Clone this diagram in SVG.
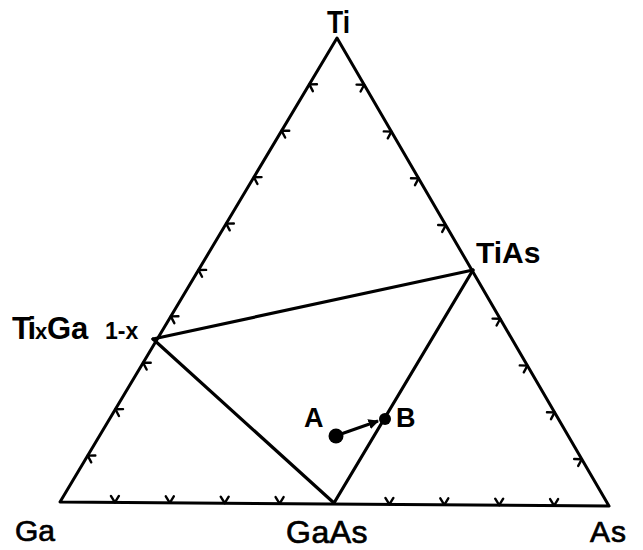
<svg xmlns="http://www.w3.org/2000/svg" xmlns:xlink="http://www.w3.org/1999/xlink" width="643" height="550" viewBox="0 0 643 550">
<style>
.edge{fill:none;stroke:#000;stroke-width:3;stroke-linejoin:round;stroke-linecap:round}
.tie{fill:none;stroke:#000;stroke-width:3.2;stroke-linecap:round}
.tick{fill:none;stroke:#000;stroke-width:2.4;stroke-linecap:round;stroke-linejoin:round}
.lb{font-family:"Liberation Sans",Arial,sans-serif;font-weight:bold;fill:#000}
.lr{font-family:"Liberation Sans",Arial,sans-serif;font-weight:normal;fill:#000;stroke:#000;stroke-width:0.7}
</style>
<defs>
<marker id="ah" viewBox="0 0 10 10" refX="9" refY="5" markerWidth="3.5" markerHeight="3.5" orient="auto" markerUnits="strokeWidth">
<path d="M0,0 L10,5 L0,10 z" fill="#000"/>
</marker>
<path id="tk" class="tick" d="M-4,-6.5 L0,0 L4,-6.5"/>
</defs>
<rect width="643" height="550" fill="#fff"/>
<g id="connectors">
<path class="edge" d="M60,502 L337,38 L609,506 Z"/>
<line class="tie" x1="153" y1="339" x2="473" y2="270"/>
<line class="tie" x1="153" y1="339" x2="334" y2="503"/>
<line class="tie" x1="334" y1="503" x2="473" y2="270"/>
<line x1="341" y1="434" x2="378" y2="421" stroke="#000" stroke-width="3" marker-end="url(#ah)"/>
</g>
<g id="ticks">
<use xlink:href="#tk" href="#tk" transform="translate(87.7,455.6) rotate(120.8)"/>
<use xlink:href="#tk" href="#tk" transform="translate(115.4,409.2) rotate(120.8)"/>
<use xlink:href="#tk" href="#tk" transform="translate(143.1,362.8) rotate(120.8)"/>
<use xlink:href="#tk" href="#tk" transform="translate(170.8,316.4) rotate(120.8)"/>
<use xlink:href="#tk" href="#tk" transform="translate(198.5,270) rotate(120.8)"/>
<use xlink:href="#tk" href="#tk" transform="translate(226.2,223.6) rotate(120.8)"/>
<use xlink:href="#tk" href="#tk" transform="translate(253.9,177.2) rotate(120.8)"/>
<use xlink:href="#tk" href="#tk" transform="translate(281.6,130.8) rotate(120.8)"/>
<use xlink:href="#tk" href="#tk" transform="translate(309.3,84.4) rotate(120.8)"/>
<use xlink:href="#tk" href="#tk" transform="translate(364.2,84.8) rotate(-120.2)"/>
<use xlink:href="#tk" href="#tk" transform="translate(391.4,131.6) rotate(-120.2)"/>
<use xlink:href="#tk" href="#tk" transform="translate(418.6,178.4) rotate(-120.2)"/>
<use xlink:href="#tk" href="#tk" transform="translate(445.8,225.2) rotate(-120.2)"/>
<use xlink:href="#tk" href="#tk" transform="translate(500.2,318.8) rotate(-120.2)"/>
<use xlink:href="#tk" href="#tk" transform="translate(527.4,365.6) rotate(-120.2)"/>
<use xlink:href="#tk" href="#tk" transform="translate(554.6,412.4) rotate(-120.2)"/>
<use xlink:href="#tk" href="#tk" transform="translate(581.8,459.2) rotate(-120.2)"/>
<use xlink:href="#tk" href="#tk" transform="translate(114.9,502.4)"/>
<use xlink:href="#tk" href="#tk" transform="translate(169.8,502.8)"/>
<use xlink:href="#tk" href="#tk" transform="translate(224.7,503.2)"/>
<use xlink:href="#tk" href="#tk" transform="translate(279.6,503.6)"/>
<use xlink:href="#tk" href="#tk" transform="translate(389.4,504.4)"/>
<use xlink:href="#tk" href="#tk" transform="translate(444.3,504.8)"/>
<use xlink:href="#tk" href="#tk" transform="translate(499.2,505.2)"/>
<use xlink:href="#tk" href="#tk" transform="translate(554.1,505.6)"/>
</g>
<g id="node-Ti"><text class="lb" x="327" y="33" font-size="32" textLength="23" lengthAdjust="spacingAndGlyphs">Ti</text></g>
<g id="node-TiAs"><text class="lb" x="476" y="263" font-size="30">TiAs</text></g>
<g id="node-TixGa"><text class="lb" y="339"><tspan x="12" font-size="31" letter-spacing="-3">Ti</tspan><tspan x="35" font-size="22">x</tspan><tspan x="47" font-size="31">Ga</tspan><tspan x="105" font-size="23">1-x</tspan></text></g>
<g id="node-Ga"><text class="lr" x="15" y="541" font-size="30">Ga</text></g>
<g id="node-GaAs"><text class="lr" x="286" y="543" font-size="32" letter-spacing="0.5">GaAs</text></g>
<g id="node-As"><text class="lr" x="590" y="542" font-size="30" letter-spacing="1">As</text></g>
<g id="node-A"><circle cx="336" cy="436" r="7.5" fill="#000"/><text class="lb" x="304" y="427" font-size="27">A</text></g>
<g id="node-B"><circle cx="385" cy="419" r="6" fill="#000"/><text class="lb" x="396" y="427" font-size="27">B</text></g>
</svg>
